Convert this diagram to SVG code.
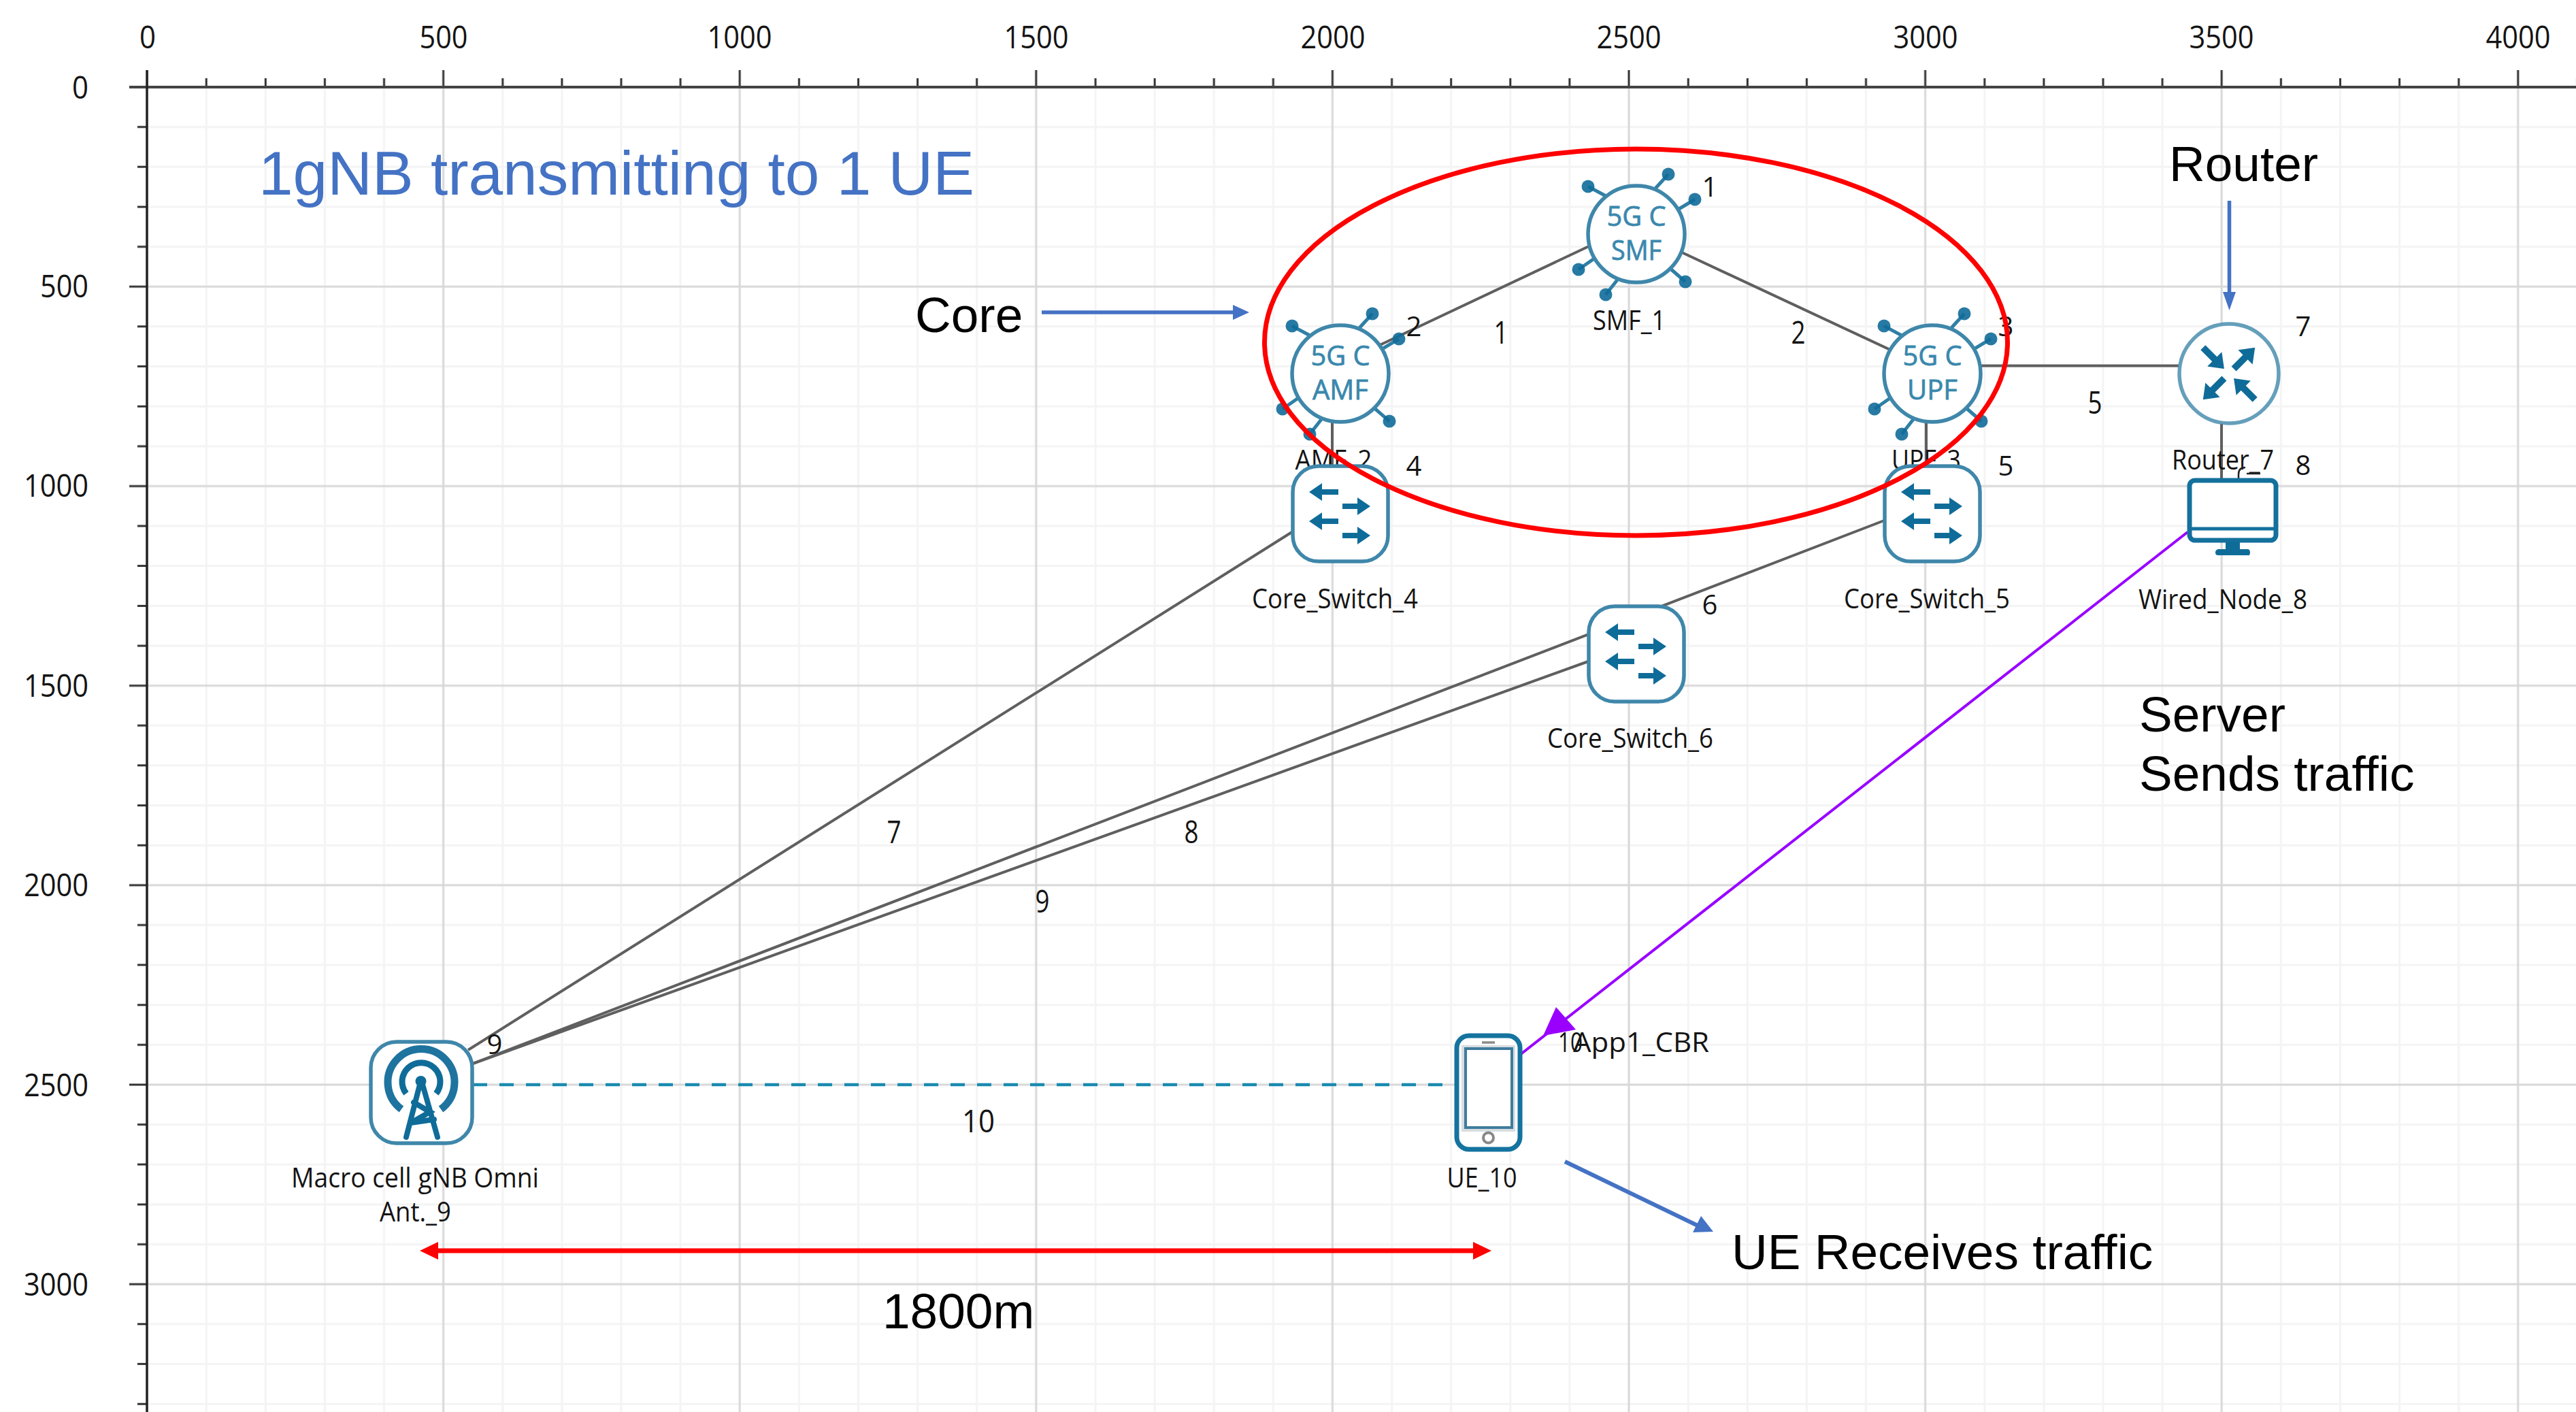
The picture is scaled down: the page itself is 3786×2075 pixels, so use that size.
<svg xmlns="http://www.w3.org/2000/svg" xmlns:xlink="http://www.w3.org/1999/xlink" width="3786" height="2075" viewBox="0 0 3786 2075">
<style>
text{font-family:"Open Sans","Liberation Sans",sans-serif;fill:#141414}
.ax{font-size:46px;text-anchor:middle}
.axr{font-size:46px;text-anchor:end}
.l{font-size:40px;text-anchor:middle}
.ln{font-size:46px;text-anchor:middle}
.a{font-family:"Liberation Sans",Arial,sans-serif;font-size:73px;fill:#000}
.ic{font-size:41px;text-anchor:middle;fill:#3a88ae;stroke:#3a88ae;stroke-width:.8px}
.link{stroke:#5f5f5f;stroke-width:4;fill:none}
.shell{fill:#fff;stroke:#3f87aa;stroke-width:5.5}
.dk{fill:#0f6c99}
.sp{stroke:#2f7fa5;stroke-width:5;fill:none}
</style>
<defs>
<pattern id="grid" patternUnits="userSpaceOnUse" x="-1.8" y="-18.6" width="435.6" height="293.2">
<path d="M305 0V294M392.1 0V294M43.6 0V294M130.7 0V294M0 205.3H436M0 263.9H436M0 29.3H436M0 87.9H436" stroke="#f4f4f4" stroke-width="3" fill="none"/>
<path d="M217.8 0V294M0 146.6H436" stroke="#d8d8d8" stroke-width="3" fill="none"/>
</pattern>
<pattern id="tickx" patternUnits="userSpaceOnUse" x="-1.8" y="103" width="435.6" height="26">
<path d="M217.8 0V26M305 12V26M392.1 12V26M43.6 12V26M130.7 12V26" stroke="#333" stroke-width="3" fill="none"/>
</pattern>
<pattern id="ticky" patternUnits="userSpaceOnUse" x="190" y="-18.6" width="26" height="293.2">
<path d="M0 146.6H26M12 205.3H26M12 263.9H26M12 29.3H26M12 87.9H26" stroke="#333" stroke-width="3" fill="none"/>
</pattern>
<g id="core">
<path class="sp" d="M26 -65L47 -88M-43 -55L-71 -70M61 -36L86 -51M-62 36L-85 52M-27 66L-45 89M49 50L72 70"/>
<circle class="dk" fill-opacity=".9" cx="47" cy="-88" r="9.5"/><circle class="dk" fill-opacity=".9" cx="-71" cy="-70" r="9.5"/><circle class="dk" fill-opacity=".9" cx="86" cy="-51" r="9.5"/><circle class="dk" fill-opacity=".9" cx="-85" cy="52" r="9.5"/><circle class="dk" fill-opacity=".9" cx="-45" cy="89" r="9.5"/><circle class="dk" fill-opacity=".9" cx="72" cy="70" r="9.5"/>
<circle class="shell" r="71"/>
</g>
<g id="sw">
<rect class="shell" x="-70" y="-70" width="140" height="140" rx="38"/>
<path class="dk" d="M-46 -32L-27 -45V-36H-3V-28H-27V-19Z"/>
<path class="dk" d="M-46 11L-27 -2V7H-3V15H-27V24Z"/>
<path class="dk" d="M44 -11L25 -24V-15H3V-7H25V2Z"/>
<path class="dk" d="M44 32L25 19V28H3V36H25V45Z"/>
</g>
<path id="da" class="dk" d="M0 -5H24V-15L44 0L24 15V5H0Z"/>
</defs>
<rect width="3786" height="2075" fill="#fff"/>
<rect x="216" y="128" width="3570" height="1947" fill="url(#grid)"/>
<g id="axes">
<rect x="216" y="103" width="3570" height="26" fill="url(#tickx)"/>
<rect x="190" y="128" width="26" height="1947" fill="url(#ticky)"/>
<path d="M190 128H3786" stroke="#444" stroke-width="4"/>
<path d="M216 103V2075" stroke="#222" stroke-width="3.5"/>
<text class="ax" x="217" y="71" textLength="24" lengthAdjust="spacingAndGlyphs">0</text>
<text class="ax" x="652" y="71" textLength="71" lengthAdjust="spacingAndGlyphs">500</text>
<text class="ax" x="1087" y="71" textLength="95" lengthAdjust="spacingAndGlyphs">1000</text>
<text class="ax" x="1523" y="71" textLength="95" lengthAdjust="spacingAndGlyphs">1500</text>
<text class="ax" x="1959" y="71" textLength="95" lengthAdjust="spacingAndGlyphs">2000</text>
<text class="ax" x="2394" y="71" textLength="95" lengthAdjust="spacingAndGlyphs">2500</text>
<text class="ax" x="2830" y="71" textLength="95" lengthAdjust="spacingAndGlyphs">3000</text>
<text class="ax" x="3265" y="71" textLength="95" lengthAdjust="spacingAndGlyphs">3500</text>
<text class="ax" x="3701" y="71" textLength="95" lengthAdjust="spacingAndGlyphs">4000</text>
<text class="axr" x="130" y="145" textLength="24" lengthAdjust="spacingAndGlyphs">0</text>
<text class="axr" x="130" y="437" textLength="71" lengthAdjust="spacingAndGlyphs">500</text>
<text class="axr" x="130" y="730" textLength="95" lengthAdjust="spacingAndGlyphs">1000</text>
<text class="axr" x="130" y="1024" textLength="95" lengthAdjust="spacingAndGlyphs">1500</text>
<text class="axr" x="130" y="1317" textLength="95" lengthAdjust="spacingAndGlyphs">2000</text>
<text class="axr" x="130" y="1611" textLength="95" lengthAdjust="spacingAndGlyphs">2500</text>
<text class="axr" x="130" y="1904" textLength="95" lengthAdjust="spacingAndGlyphs">3000</text>
</g>
<g id="connectors">
<path class="link" d="M2028 507L2335 362"/>
<path class="link" d="M2472 371L2778 514"/>
<path class="link" d="M2911 537.5H3202"/>
<path class="link" d="M1958 621V686"/>
<path class="link" d="M2831 620V686"/>
<path class="link" d="M3265 623V703"/>
<path class="link" d="M1905 778L688 1543"/>
<path class="link" d="M695 1563L2769 765"/>
<path class="link" d="M695 1563L2337 971"/>
<path d="M695 1594H2139" stroke="#1a8ab0" stroke-width="4.5" stroke-dasharray="21 18" fill="none"/>
<path d="M3215 782L2234 1550" stroke="#9900ff" stroke-width="4" fill="none"/>
<path d="M2287 1480L2316 1513L2268 1522Z" fill="#9900ff"/>
</g>
<g id="link-labels">
<text class="ln" x="2206" y="505" textLength="21" lengthAdjust="spacingAndGlyphs">1</text>
<text class="ln" x="2643" y="505" textLength="21" lengthAdjust="spacingAndGlyphs">2</text>
<text class="ln" x="3079" y="608" textLength="21" lengthAdjust="spacingAndGlyphs">5</text>
<text class="ln" x="1314" y="1239" textLength="21" lengthAdjust="spacingAndGlyphs">7</text>
<text class="ln" x="1751" y="1239" textLength="21" lengthAdjust="spacingAndGlyphs">8</text>
<text class="ln" x="1532" y="1341" textLength="21" lengthAdjust="spacingAndGlyphs">9</text>
<text class="ln" x="1438" y="1664" textLength="48" lengthAdjust="spacingAndGlyphs">10</text>
</g>
<g id="node-smf"><text class="l" x="2394.5" y="485" textLength="107" lengthAdjust="spacingAndGlyphs">SMF_1</text><use xlink:href="#core" href="#core" x="2405" y="344"/><text class="ic" x="2405" y="332" textLength="87" lengthAdjust="spacingAndGlyphs">5G C</text><text class="ic" x="2405" y="382" textLength="74" lengthAdjust="spacingAndGlyphs">SMF</text><text class="l" x="2513" y="289">1</text></g>
<g id="node-amf"><text class="l" x="1960" y="690" textLength="113" lengthAdjust="spacingAndGlyphs">AMF_2</text><use xlink:href="#core" href="#core" x="1970" y="549"/><text class="ic" x="1970" y="537" textLength="87" lengthAdjust="spacingAndGlyphs">5G C</text><text class="ic" x="1970" y="587" textLength="82" lengthAdjust="spacingAndGlyphs">AMF</text><text class="l" x="2078" y="494">2</text></g>
<g id="node-upf"><text class="l" x="2831" y="690" textLength="102" lengthAdjust="spacingAndGlyphs">UPF_3</text><use xlink:href="#core" href="#core" x="2840" y="549"/><text class="ic" x="2840" y="537" textLength="87" lengthAdjust="spacingAndGlyphs">5G C</text><text class="ic" x="2840" y="587" textLength="74" lengthAdjust="spacingAndGlyphs">UPF</text><text class="l" x="2948" y="494">3</text></g>
<g id="node-switch4"><use xlink:href="#sw" href="#sw" x="1970" y="755"/><text class="l" x="1962" y="894" textLength="244" lengthAdjust="spacingAndGlyphs">Core_Switch_4</text><text class="l" x="2078" y="699">4</text></g>
<g id="node-switch5"><use xlink:href="#sw" href="#sw" x="2840" y="755"/><text class="l" x="2832" y="894" textLength="244" lengthAdjust="spacingAndGlyphs">Core_Switch_5</text><text class="l" x="2948" y="699">5</text></g>
<g id="node-switch6"><use xlink:href="#sw" href="#sw" x="2405" y="961"/><text class="l" x="2396" y="1099" textLength="244" lengthAdjust="spacingAndGlyphs">Core_Switch_6</text><text class="l" x="2513" y="903">6</text></g>
<g id="node-router"><circle class="shell" cx="3276" cy="549" r="73" stroke-opacity=".8"/>
<g transform="translate(3276 549)"><use xlink:href="#da" href="#da" transform="rotate(-135) translate(54 0) rotate(180)"/><use xlink:href="#da" href="#da" transform="rotate(-45) translate(10 0)"/><use xlink:href="#da" href="#da" transform="rotate(135) translate(10 0)"/><use xlink:href="#da" href="#da" transform="rotate(45) translate(54 0) rotate(180)"/></g>
<text class="l" x="3267" y="690" textLength="150" lengthAdjust="spacingAndGlyphs">Router_7</text><text class="l" x="3385" y="494">7</text></g>
<g id="node-wired"><path d="M3290 703v-6q0-10 10-10M3302 696h20" stroke="#222" stroke-width="2.5" fill="none"/>
<rect x="3218" y="706" width="127" height="88" rx="8" fill="#fff" stroke="#14709c" stroke-width="7"/><path d="M3218 777H3345" stroke="#14709c" stroke-width="5"/><path class="dk" d="M3271 796H3292V807H3303Q3307 807 3307 812T3303 816H3260Q3256 816 3256 812T3260 807H3271Z"/>
<text class="l" x="3267" y="895" textLength="248" lengthAdjust="spacingAndGlyphs">Wired_Node_8</text><text class="l" x="3385" y="698">8</text></g>
<g id="node-gnb"><rect class="shell" x="545" y="1531" width="149" height="149" rx="38"/>
<path d="M590 1630A49 49 0 1 1 648 1630" stroke="#1e749f" stroke-width="11" fill="none"/>
<path d="M597 1607A28 28 0 1 1 641 1607" stroke="#0f6c99" stroke-width="9" fill="none"/>
<circle class="dk" cx="618.5" cy="1589" r="8"/>
<path d="M618 1590L597 1671M620 1590L643 1671M608 1620L632 1634L604 1650L638 1645" stroke="#0f6c99" stroke-width="8" stroke-linecap="round" fill="none"/>
<text class="l" x="610" y="1745" textLength="364" lengthAdjust="spacingAndGlyphs">Macro cell gNB Omni</text><text class="l" x="610.5" y="1795" textLength="105" lengthAdjust="spacingAndGlyphs">Ant._9</text><text class="l" x="727" y="1549">9</text></g>
<g id="node-ue"><rect x="2141" y="1522" width="93" height="167" rx="18" fill="#fff" stroke="#14739f" stroke-width="7"/><rect x="2148" y="1536" width="79" height="127" fill="#d8dde0"/><rect x="2154" y="1541" width="68" height="116" fill="#fff" stroke="#3f7c9c" stroke-width="4"/><path d="M2178 1532H2197" stroke="#8a8a8a" stroke-width="3.5"/><circle cx="2187.5" cy="1672" r="7.5" fill="#fff" stroke="#888" stroke-width="4"/>
<text class="l" x="2178" y="1745" textLength="103" lengthAdjust="spacingAndGlyphs">UE_10</text><text class="l" x="2308" y="1546" textLength="36" lengthAdjust="spacingAndGlyphs">10</text></g>
<g id="app"><text class="l" x="2412" y="1546" textLength="200" lengthAdjust="spacingAndGlyphs">App1_CBR</text></g>
<g id="annotations">
<text class="a" x="380" y="286" style="font-size:91px;fill:#4472c4">1gNB transmitting to 1 UE</text>
<text class="a" x="1345" y="488">Core</text>
<text class="a" x="3188" y="266">Router</text>
<text class="a" x="3144" y="1075">Server</text>
<text class="a" x="3144" y="1162">Sends traffic</text>
<text class="a" x="2545" y="1865">UE Receives traffic</text>
<text class="a" x="1297" y="1952">1800m</text>
<path d="M1531 459H1815" stroke="#4472c4" stroke-width="5.5"/><path d="M1812 448L1836 459L1812 470Z" fill="#4472c4"/>
<path d="M3276.5 295V430" stroke="#4472c4" stroke-width="5.5"/><path d="M3267 429H3286L3276.5 456Z" fill="#4472c4"/>
<path d="M2300 1707L2495 1801" stroke="#4472c4" stroke-width="6"/><path d="M2500 1787L2518 1810L2488 1811Z" fill="#4472c4"/>
<path d="M640 1838H2170" stroke="#f00" stroke-width="7"/><path d="M644 1825V1851L617 1838ZM2165 1825V1851L2192 1838Z" fill="#f00"/>
<ellipse cx="2404.5" cy="503" rx="546" ry="284" fill="none" stroke="#f00" stroke-width="7"/>
</g>
</svg>
